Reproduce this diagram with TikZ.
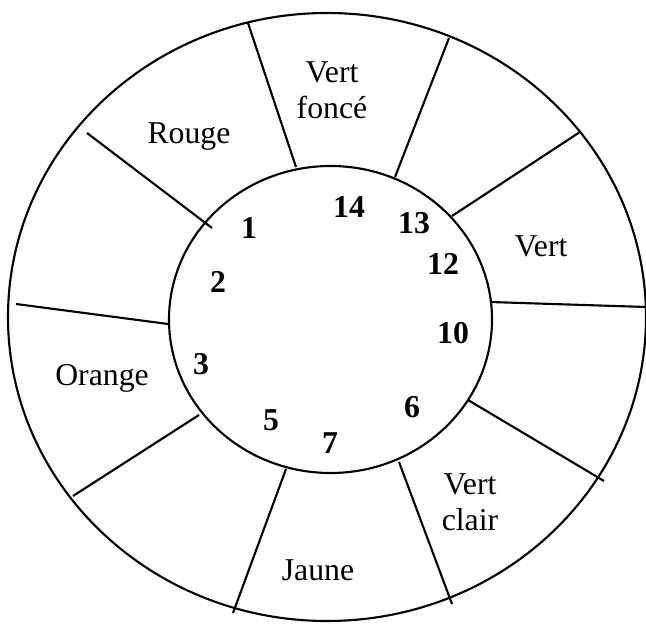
\documentclass[tikz,border=0pt]{standalone}
\usepackage{fontspec}
\setmainfont{Liberation Serif}
\usepackage{tikz}

\begin{document}
\begin{tikzpicture}[x=0.01327cm, y=-0.01327cm,
    ring/.style={line width=0.8pt},
    spoke/.style={line width=0.8pt},
    colname/.style={font=\fontsize{12}{13.6}\selectfont, align=center, inner sep=0pt},
    num/.style={font=\fontsize{12}{13}\selectfont\bfseries, inner sep=0pt}]
    \useasboundingbox (0,0) rectangle (646,624);

    % --- circles ---
    \draw[ring] (327,317) ellipse [x radius=319, y radius=304];
    \draw[ring] (330.5,319.5) ellipse [x radius=161.5, y radius=153.5];

    % --- spokes (outer end / inner end) ---
    \foreach \xa/\ya/\xb/\yb in {87/133/212/228, 248/23/296/167, 449/38/395/177,
        580/132/452/216, 646/307/490/302, 604/481/468/400, 452/604/399/462,
        233/613/286/469, 73/496/199/415, 16/304/168/324}{
        \draw[spoke] (\xa,\ya) -- (\xb,\yb);
    }

    % --- colour names ---
    \node[colname] (rouge) at (189,137) {Rouge};
    \node[colname] (vertfonce) at (332,90) {Vert\\fonc\'e};
    \node[colname] (vert) at (541,246) {Vert};
    \node[colname] (orange) at (102,378) {Orange};
    \node[colname] (vertclair) at (470,502) {Vert\\clair};
    \node[colname] (jaune) at (318,570) {Jaune};

    % --- numbers ---
    \foreach \n/\px/\py in {1/249/228, 2/218/282, 3/201/364, 5/271/420, 7/330/443,
        6/412/407, 10/453/333, 12/443/264, 13/414/223, 14/349/207}{
        \node[num] (n\n) at (\px,\py) {\n};
    }
\end{tikzpicture}
\end{document}
